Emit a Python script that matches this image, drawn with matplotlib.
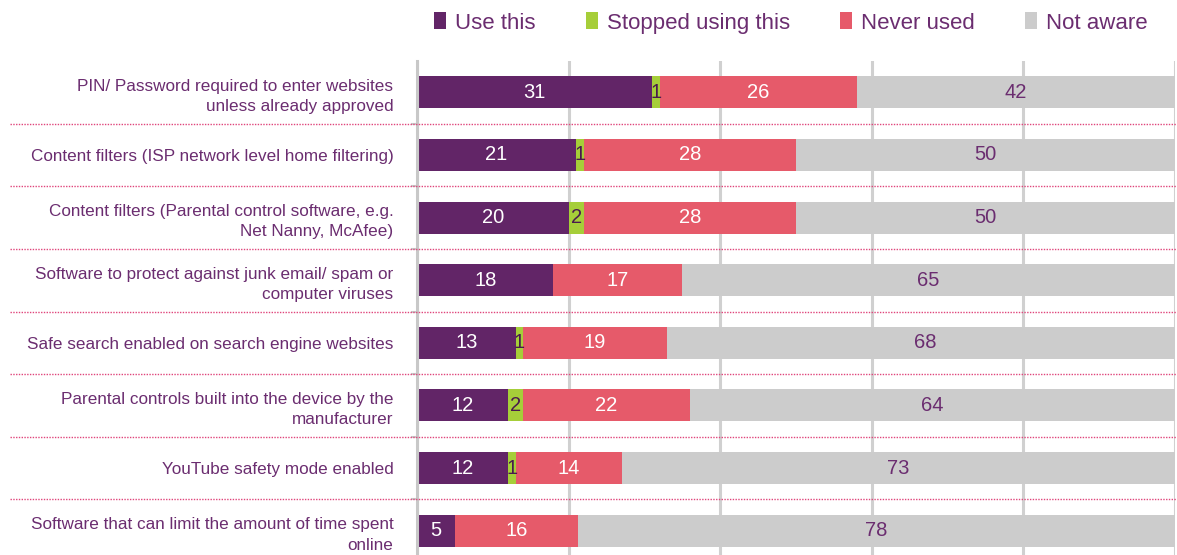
import matplotlib
matplotlib.use("Agg")
import matplotlib.pyplot as plt
from matplotlib.patches import Patch
from matplotlib.transforms import blended_transform_factory
import numpy as np

plt.rcParams['font.family'] = ['Liberation Sans', 'DejaVu Sans']

categories = [
    "PIN/ Password required to enter websites\nunless already approved",
    "Content filters (ISP network level home filtering)",
    "Content filters (Parental control software, e.g.\nNet Nanny, McAfee)",
    "Software to protect against junk email/ spam or\ncomputer viruses",
    "Safe search enabled on search engine websites",
    "Parental controls built into the device by the\nmanufacturer",
    "YouTube safety mode enabled",
    "Software that can limit the amount of time spent\nonline",
]
use_this = [31, 21, 20, 18, 13, 12, 12, 5]
stopped = [1, 1, 2, 0, 1, 2, 1, 0]
never_used = [26, 28, 28, 17, 19, 22, 14, 16.2]
not_aware = [42, 50, 50, 65, 68, 64, 73, 78.8]

series_names = ["Use this", "Stopped using this", "Never used", "Not aware"]
colors = ["#622567", "#A6CE39", "#E65A6A", "#CCCCCC"]
label_colors = ["white", "#4A1A4E", "white", "#6B2D70"]
text_color = "#6B2D70"

W, H = 1177, 555
fig = plt.figure(figsize=(W / 100, H / 100), dpi=100)
ax_left, ax_right = 417 / W, 1175 / W
ax_top = 1 - 61 / H
ax_bottom = 1 - 562 / H
ax = fig.add_axes([ax_left, ax_bottom, ax_right - ax_left, ax_top - ax_bottom])

y = np.arange(len(categories))
left = np.zeros(len(categories))
data = [use_this, stopped, never_used, not_aware]
for vals, col, lc, name in zip(data, colors, label_colors, series_names):
    vals = np.array(vals, dtype=float)
    ax.barh(y, vals, left=left, height=0.51, color=col, label=name, zorder=3)
    for yi, (l, v) in enumerate(zip(left, vals)):
        if v > 0:
            ax.text(l + v / 2, yi, f"{int(v)}", ha="center", va="center",
                    color=lc, fontsize=14.5, zorder=4)
    left += vals

ax.set_xlim(0, 100)
ax.set_ylim(len(categories) - 0.5, -0.5)
ax.set_xticks([0, 20, 40, 60, 80, 100])
ax.tick_params(axis="x", which="both", length=0, labelbottom=False)
ax.grid(axis="x", color="#D0D0D0", linewidth=2.2, zorder=0)
ax.set_axisbelow(True)
for s in ["top", "right", "bottom"]:
    ax.spines[s].set_visible(False)
ax.spines["left"].set_color("#C8C8C8")
ax.spines["left"].set_linewidth(2.2)
ax.spines["left"].set_zorder(5)

ax.set_yticks(y)
ax.set_yticklabels(categories, fontsize=12.3, color=text_color, linespacing=1.45)
ax.tick_params(axis="y", which="major", length=0, pad=17)
ax.set_yticks(np.arange(0.5, len(categories) - 0.5, 1), minor=True)
ax.tick_params(axis="y", which="minor", length=4, width=1.5, color="#C8C8C8")

# dotted separators
trans = blended_transform_factory(fig.transFigure, ax.transData)
for b in np.arange(0.5, len(categories) - 0.5, 1):
    ax.plot([10 / W, 1.0], [b, b], transform=trans, clip_on=False,
            color="#E0457B", linestyle=(0, (1, 1)), linewidth=1.0, zorder=6)

handles = [Patch(facecolor=c, edgecolor="none") for c in colors]
leg = fig.legend(handles, series_names, loc="center left",
                 bbox_to_anchor=(434 / W, 1 - 23 / H), ncol=4, frameon=False,
                 fontsize=16, handlelength=0.55, handleheight=0.8,
                 handletextpad=0.4, columnspacing=2.25, borderaxespad=0,
                 borderpad=0)
for t in leg.get_texts():
    t.set_color(text_color)

fig.savefig("out.png", dpi=100)
